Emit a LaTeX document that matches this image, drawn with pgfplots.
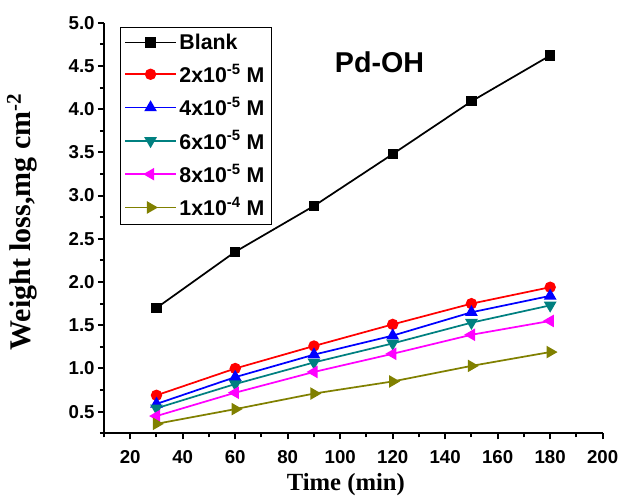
\documentclass[border=0pt]{standalone}
\usepackage{pgfplots}
\pgfplotsset{compat=1.18}
\usepackage{fontspec}
\setmainfont{Liberation Sans}
\newfontfamily\timesf{Liberation Serif}
\definecolor{cteal}{RGB}{0,128,128}
\definecolor{colive}{RGB}{128,128,0}
\definecolor{cmag}{RGB}{255,0,255}
\definecolor{cred}{RGB}{255,0,0}
\definecolor{cblue}{RGB}{0,0,255}
\begin{document}
\begin{tikzpicture}
\begin{axis}[
  at={(0,0)}, anchor=south west,
  width=374pt, height=308pt, scale only axis,
  xmin=10, xmax=200, ymin=0.25, ymax=5.0,
  axis x line*=bottom, axis y line*=left,
  axis line style={line width=1.5pt,-},
  xtick={20,40,60,80,100,120,140,160,180,200},
  minor xtick={10,30,50,70,90,110,130,150,170,190},
  ytick={0.5,1.0,1.5,2.0,2.5,3.0,3.5,4.0,4.5,5.0},
  minor ytick={0.25,0.75,1.25,1.75,2.25,2.75,3.25,3.75,4.25,4.75},
  tick align=outside,
  major tick length=4.5pt, minor tick length=3pt,
  every tick/.style={line width=1.5pt, black},
  /pgf/number format/assume math mode=true,
  ticklabel style={font=\fontsize{14}{14}\selectfont\bfseries},
  xticklabel style={yshift=-5pt},
  yticklabel style={/pgf/number format/fixed, /pgf/number format/fixed zerofill, /pgf/number format/precision=1, xshift=1pt},
  xlabel={Time (min)},
  ylabel={Weight loss,mg cm\textsuperscript{-2}},
  xlabel style={font=\timesf\fontsize{18.5}{18.5}\selectfont\bfseries, at={(axis description cs:0.485,0)}, anchor=center, yshift=-38.5pt},
  ylabel style={font=\timesf\fontsize{22.5}{22.5}\selectfont\bfseries, at={(axis description cs:-0.164,0.515)}, anchor=center},
  legend style={at={(0.032,0.99)}, anchor=north west, draw=black, line width=0.6pt,
    font=\fontsize{16}{16}\selectfont\bfseries, row sep=5.5pt, inner sep=3pt},
  legend cell align=left,
  legend image code/.code={\draw[mark repeat=2,mark phase=2,#1] plot coordinates {(0pt,0pt) (19pt,0pt) (38pt,0pt)};},
  every axis plot/.append style={line width=1.3pt},
  clip=false,
]
\addplot[black, mark=square*, mark size=3.2pt] coordinates {(30,1.70) (60,2.35) (90,2.88) (120,3.48) (150,4.09) (180,4.62)};
\addlegendentry{Blank}
\addplot[cred, mark=*, mark size=3.6pt] coordinates {(30,0.69) (60,1.00) (90,1.26) (120,1.51) (150,1.75) (180,1.94)};
\addlegendentry{2x10\textsuperscript{-5} M}
\addplot[cblue, mark=triangle*, mark size=4.2pt] coordinates {(30,0.59) (60,0.90) (90,1.16) (120,1.38) (150,1.65) (180,1.84)};
\addlegendentry{4x10\textsuperscript{-5} M}
\addplot[cteal, mark=triangle*, mark size=4.2pt, mark options={rotate=180}] coordinates {(30,0.54) (60,0.82) (90,1.07) (120,1.29) (150,1.53) (180,1.73)};
\addlegendentry{6x10\textsuperscript{-5} M}
\addplot[cmag, mark=triangle*, mark size=4.2pt, mark options={rotate=90}] coordinates {(30,0.45) (60,0.72) (90,0.96) (120,1.17) (150,1.39) (180,1.55)};
\addlegendentry{8x10\textsuperscript{-5} M}
\addplot[colive, mark=triangle*, mark size=4.2pt, mark options={rotate=-90}] coordinates {(30,0.36) (60,0.53) (90,0.71) (120,0.85) (150,1.03) (180,1.19)};
\addlegendentry{1x10\textsuperscript{-4} M}
\node[font=\fontsize{21.5}{21.5}\selectfont\bfseries] at (axis cs:115,4.54) {Pd-OH};
\end{axis}
\pgfresetboundingbox
\path (-78pt,-47pt) rectangle (393.75pt,325pt);
\end{tikzpicture}
\end{document}
